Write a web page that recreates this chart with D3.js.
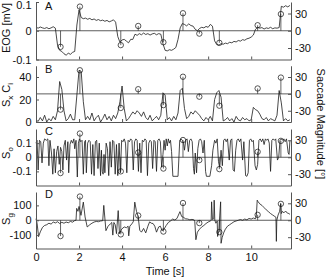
<!DOCTYPE html>
<html><head><meta charset="utf-8">
<script src="https://cdn.jsdelivr.net/npm/d3@7"></script>
<style>body{margin:0;background:#fff} svg text{font-family:"Liberation Sans",Arial,sans-serif;font-size:11px;fill:#111}</style>
</head><body><svg id="c" width="329" height="278"></svg>
<script>
const timeTicks=[0,2,4,6,8,10];
const magTicks=[-30,0,30];
const eogTicks=[-0.1,0,0.1];
const sxciTicks=[0,20,40];
const soTicks=[-0.1,0,0.1];
const sgTicks=[-100,0,100];
const saccadeTimes=[1.14,2.04,3.94,4.75,5.92,6.83,7.59,8.52,10.30,11.38];
const saccadeMags=[-28,42,-25,8.3,-20,30.5,-5,-21,9.6,29];
const sampleStep=0.1;
const eogValues=[0.012,0.009,0.013,0.010,0.008,0.011,0.007,0.010,0.014,0.009,
-0.050,-0.068,-0.072,-0.080,-0.085,-0.078,-0.082,-0.075,-0.072,
0.020,0.072,
0.046,0.042,0.044,0.040,0.043,0.038,0.041,0.036,0.039,0.035,0.037,0.033,0.036,0.031,0.034,0.038,0.030,
-0.020,-0.040,-0.032,-0.030,-0.036,-0.042,-0.030,-0.030,
-0.012,-0.016,-0.010,-0.014,-0.008,-0.013,-0.010,-0.015,-0.011,-0.009,-0.014,-0.010,-0.012,
-0.045,-0.068,-0.070,-0.066,-0.068,-0.064,-0.058,-0.030,
0.010,0.025,0.022,0.017,0.024,0.018,0.016,
0.005,0.000,0.008,
0.012,0.010,0.015,0.012,0.022,0.016,
-0.035,-0.048,-0.050,-0.045,-0.047,
-0.043,-0.045,-0.040,-0.042,-0.037,-0.039,-0.034,-0.036,-0.031,-0.033,-0.028,-0.026,-0.022,-0.015,
0.005,0.012,0.009,0.011,0.006,0.010,0.008,0.012,0.007,0.010,0.009,0.011,
0.085,0.082,0.087,0.083,0.088];
const sxciValues=[2,0.5,4,1,6,0,3,1,5,2,
10,36,29,10,1,
3,7,2,2,
24,46,45,18,2,
5,2,8,1,4,6,0,3,7,2,5,1,6,3,
8,18,32,12,1,
3,6,9,7,10,8,5,9,4,2,6,1,3,5,2,
6,26,24,2,
4,1,5,2,
8,28,30,12,3,
5,9,7,10,8,6,3,1,4,2,5,1,
20,26,28,22,1,
2,4,1,3,0,5,2,1,4,2,3,1,2,
13,11,10,7,3,
2,4,1,3,2,1,
6,28,17,1,
3,1,2];
const soSeries=[[0.00,0.10],[0.05,0.12],[0.10,-0.09],[0.16,0.12],[0.22,0.11],[0.28,-0.04],[0.34,0.10],[0.40,0.13],[0.48,0.12],[0.55,0.13],[0.60,-0.06],[0.65,0.12],[0.72,0.03],[0.78,-0.12],[0.84,0.06],[0.90,-0.11],[0.96,0.04],[1.02,0.08],[1.08,-0.05],[1.14,0.07],[1.20,0.04],[1.25,-0.09],[1.30,0.08],[1.36,0.12],[1.42,-0.02],[1.48,0.11],[1.52,-0.11],[1.58,0.09],[1.64,0.12],[1.70,0.10],[1.76,0.13],[1.80,0.06],[1.86,0.12],[1.92,-0.14],[1.97,0.10],[2.02,0.13],[2.08,0.11],[2.14,0.12],[2.20,-0.12],[2.26,0.11],[2.30,0.12],[2.34,-0.11],[2.40,0.10],[2.46,0.12],[2.52,0.11],[2.58,-0.12],[2.64,0.09],[2.70,-0.13],[2.76,0.11],[2.82,0.12],[2.88,-0.08],[2.94,0.10],[3.00,-0.13],[3.04,0.05],[3.08,-0.10],[3.12,-0.12],[3.16,0.02],[3.20,-0.11],[3.26,0.10],[3.32,0.06],[3.38,-0.13],[3.44,0.11],[3.50,-0.07],[3.56,0.12],[3.62,0.11],[3.68,-0.12],[3.74,0.09],[3.80,-0.13],[3.86,0.10],[3.92,-0.11],[3.98,0.12],[4.04,0.11],[4.10,0.13],[4.16,0.10],[4.22,-0.11],[4.28,0.12],[4.34,0.11],[4.40,0.13],[4.46,0.12],[4.52,-0.09],[4.58,0.11],[4.64,0.13],[4.70,0.12],[4.76,-0.10],[4.82,0.10],[4.88,-0.11],[4.94,0.12],[5.00,0.11],[5.06,0.13],[5.12,0.12],[5.18,-0.13],[5.24,0.10],[5.30,0.12],[5.36,0.11],[5.42,-0.08],[5.48,0.12],[5.54,0.11],[5.60,-0.10],[5.66,0.12],[5.72,0.13],[5.78,0.11],[5.84,-0.07],[5.90,0.02],[5.95,0.12],[6.00,0.05],[6.05,0.13],[6.10,0.08],[6.15,0.13],[6.20,0.10],[6.25,0.12],[6.30,0.04],[6.36,-0.135],[6.60,-0.135],[6.68,0.12],[6.74,0.13],[6.80,0.12],[6.86,0.10],[6.90,0.05],[6.96,0.12],[7.02,0.13],[7.08,0.04],[7.14,0.12],[7.20,0.13],[7.26,0.11],[7.32,-0.08],[7.36,-0.12],[7.40,0.03],[7.46,-0.11],[7.52,0.06],[7.58,0.12],[7.64,0.13],[7.70,0.11],[7.76,0.03],[7.82,0.12],[7.88,-0.10],[7.92,-0.135],[8.08,-0.135],[8.16,-0.06],[8.22,0.05],[8.30,0.12],[8.36,0.10],[8.42,0.13],[8.48,-0.03],[8.54,-0.07],[8.60,0.05],[8.66,-0.06],[8.72,0.12],[8.78,0.13],[8.84,0.11],[8.90,0.13],[8.98,-0.02],[9.04,0.12],[9.10,0.13],[9.16,-0.09],[9.22,-0.10],[9.28,0.05],[9.34,0.12],[9.40,0.13],[9.46,0.11],[9.52,0.13],[9.60,-0.02],[9.66,0.11],[9.74,-0.13],[9.80,-0.135],[9.86,-0.11],[9.92,0.12],[9.98,0.13],[10.04,0.11],[10.10,0.12],[10.18,-0.06],[10.24,-0.09],[10.30,-0.05],[10.36,0.12],[10.42,0.13],[10.48,0.11],[10.54,0.13],[10.60,0.09],[10.66,0.13],[10.72,0.12],[10.78,0.13],[10.84,0.10],[10.90,-0.10],[10.96,0.12],[11.02,0.13],[11.08,0.12],[11.14,0.13],[11.22,-0.02],[11.28,0.00],[11.34,0.12],[11.40,0.13],[11.46,0.12],[11.52,0.13],[11.58,0.11],[11.64,0.13],[11.72,0.03],[11.76,0.02],[11.80,0.12]];
const sgSeries=[[0.00,10],[0.05,-20],[0.12,-110],[0.2,-78],[0.3,-48],[0.4,-35],[0.5,-30],[0.6,-20],[0.7,-26],[0.8,-12],[0.9,-18],[1.0,-10],[1.1,-22],[1.2,-14],[1.3,-20],[1.4,-12],[1.5,-17],[1.6,-8],[1.7,-13],[1.8,-2],[1.86,0],[1.89,80],[1.95,60],[2.0,93],[2.09,33],[2.2,122],[2.28,22],[2.38,-45],[2.5,-30],[2.6,-20],[2.7,-12],[2.8,-8],[2.9,-10],[3.0,-5],[3.1,-3],[3.15,100],[3.25,-70],[3.35,-40],[3.45,-25],[3.52,-15],[3.57,-100],[3.62,-15],[3.68,-30],[3.74,-90],[3.82,65],[3.88,-90],[3.98,-60],[4.1,-45],[4.2,-50],[4.28,-40],[4.31,-105],[4.36,-40],[4.45,-25],[4.52,-10],[4.59,122],[4.67,60],[4.75,22],[4.82,-67],[4.9,-80],[5.0,-55],[5.1,-85],[5.2,-40],[5.28,-11],[5.36,-20],[5.44,-22],[5.52,-40],[5.6,-80],[5.7,-45],[5.78,-40],[5.86,-70],[5.95,-60],[6.05,-35],[6.15,-15],[6.25,-5],[6.35,8],[6.45,2],[6.55,12],[6.62,35],[6.69,58],[6.77,25],[6.85,20],[6.95,10],[7.05,8],[7.15,3],[7.25,6],[7.35,2],[7.38,-10],[7.43,-131],[7.5,-80],[7.6,-60],[7.7,-45],[7.8,-35],[7.9,-22],[8.0,-12],[8.1,-5],[8.14,0],[8.16,124],[8.2,5],[8.26,10],[8.28,135],[8.31,0],[8.36,-20],[8.42,-5],[8.44,-109],[8.5,-70],[8.54,35],[8.58,124],[8.6,-155],[8.65,-117],[8.72,-85],[8.8,-60],[8.9,-40],[9.0,-30],[9.1,-20],[9.2,-10],[9.3,-5],[9.4,0],[9.5,5],[9.6,0],[9.7,8],[9.8,3],[9.9,12],[10.0,8],[10.1,15],[10.2,10],[10.24,30],[10.28,135],[10.32,125],[10.4,110],[10.5,100],[10.6,85],[10.7,70],[10.8,58],[10.9,45],[11.0,35],[11.1,25],[11.15,20],[11.17,-142],[11.19,0],[11.25,35],[11.32,60],[11.37,113],[11.4,45],[11.45,60],[11.52,50],[11.6,62],[11.68,48],[11.75,45],[11.8,40]];

const svg=d3.select("#c");
const x=d3.scaleLinear().domain([0,11.85]).range([36,291]);
const uniform=vals=>vals.map((v,i)=>[i*sampleStep,v]);
const fmt=d=>String(d);
const panels=[
 {letter:"A",top:2,bot:59.5,dom:[-0.1,0.1],ticks:eogTicks,ref:0,data:uniform(eogValues),lab:[["EOG [mV]",""]],labY:28},
 {letter:"B",top:65.75,bot:122,dom:[0,50],ticks:sxciTicks,ref:25,data:uniform(sxciValues),lab:[["S","x"],["C","i"]],labY:95},
 {letter:"C",top:129,bot:185.5,dom:[-0.2,0.2],ticks:soTicks,ref:0,data:soSeries,lab:[["S","o"]],labY:153},
 {letter:"D",top:192,bot:248.5,dom:[-190,190],ticks:sgTicks,ref:0,data:sgSeries,lab:[["S","g"]],labY:219}
];
const axisCol="#555";
panels.forEach((p,pi)=>{
  const y=d3.scaleLinear().domain(p.dom).range([p.bot,p.top]);
  const yr=d3.scaleLinear().domain([-50,50]).range([p.bot,p.top]);
  const g=svg.append("g");
  g.append("line").attr("x1",x.range()[0]).attr("x2",x.range()[1]).attr("y1",y(p.ref)).attr("y2",y(p.ref)).attr("stroke","#333").attr("stroke-width",0.8);
  g.append("path").datum(p.data).attr("fill","none").attr("stroke","#1a1a1a").attr("stroke-width",0.8)
    .attr("d",d3.line().x(d=>x(d[0])).y(d=>y(d[1])));
  saccadeTimes.forEach((t,i)=>{
    g.append("line").attr("x1",x(t)).attr("x2",x(t)).attr("y1",yr(0)).attr("y2",yr(saccadeMags[i])).attr("stroke","#222").attr("stroke-width",0.7);
  });
  g.selectAll("circle.s").data(saccadeTimes).join("circle").attr("class","s")
    .attr("cx",d=>x(d)).attr("cy",(d,i)=>yr(saccadeMags[i])).attr("r",2.7)
    .attr("fill","none").attr("stroke","#111").attr("stroke-width",0.7);
  const left=g.append("g").attr("transform",`translate(${x.range()[0]},0)`).call(d3.axisLeft(y).tickValues(p.ticks).tickFormat(fmt).tickSize(-3).tickSizeOuter(0).tickPadding(4.5));
  const ax=[left,
    g.append("g").attr("transform",`translate(${x.range()[1]},0)`).call(d3.axisRight(yr).tickValues(magTicks).tickFormat(fmt).tickSize(-3).tickSizeOuter(0).tickPadding(4)),
    g.append("g").attr("transform",`translate(0,${p.bot})`).call(d3.axisBottom(x).tickValues(timeTicks).tickFormat(pi===3?fmt:"").tickSize(-3).tickSizeOuter(0).tickPadding(5))
  ];
  ax.forEach(a=>{a.selectAll("path,line").attr("stroke",axisCol);a.selectAll("text").attr("font-size",11).attr("fill","#111").attr("font-family",'"Liberation Sans",Arial,sans-serif');});
  if(pi===0){ left.selectAll(".tick").filter(d=>d===0.1).select("text").attr("dy","0.32em").attr("y",3.2).attr("x",-4.5); }
  g.append("text").attr("x",45).attr("y",[9.5,73,135,198][pi]).text(p.letter);
  const t=g.append("text").attr("transform",`translate(10,${p.labY}) rotate(-90)`).attr("text-anchor","middle");
  p.lab.forEach((seg,k)=>{
    t.append("tspan").attr("dy",k===0?0:-3).text((k>0?" ":"")+seg[0]);
    if(seg[1]) t.append("tspan").attr("dy",3).attr("font-size",8).text(seg[1]);
  });
});
svg.append("text").attr("x",165).attr("y",275).attr("text-anchor","middle").text("Time [s]");
svg.append("text").attr("transform","translate(317,124) rotate(90)").attr("text-anchor","middle").text("Saccade Magnitude [°]");
</script></body></html>
